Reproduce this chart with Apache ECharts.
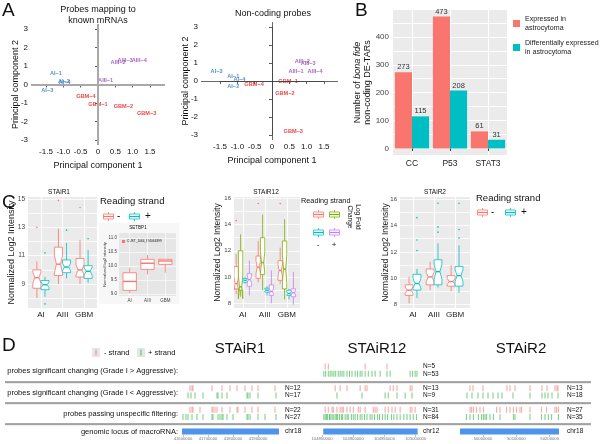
<!DOCTYPE html>
<html>
<head>
<meta charset="utf-8">
<script src="https://cdn.jsdelivr.net/npm/echarts@6/dist/echarts.min.js"></script>
<style>
html, body { margin: 0; padding: 0; background: #fff; }
#cn { width: 600px; height: 444px; }
</style>
</head>
<body>
<div id="cn"></div>
<script>
'use strict';

const FONT = 'Liberation Sans';
const RED = '#F8766D', TEAL = '#00BFC4', GREEN = '#7CAE00', PURPLE = '#C77CFF';

// ---- A : PCA (text labels only)
const PCA_NAMES = ['AI−1', 'AI−2', 'AI−3', 'AI−4', 'AIII−1', 'AIII−2', 'AIII−3', 'AIII−4', 'GBM−1', 'GBM−2', 'GBM−3', 'GBM−4'];
const PCA_GROUP = ['AI', 'AI', 'AI', 'AI', 'AIII', 'AIII', 'AIII', 'AIII', 'GBM', 'GBM', 'GBM', 'GBM'];
const MRNA_PC1 = [-1.21, -0.98, -1.46, -0.96, 0.22, 0.58, 0.78, 1.19, 0.0, 0.73, 1.40, -0.35];
const MRNA_PC2 = [0.60, 0.15, -0.30, 0.13, 0.23, 1.17, 1.31, 1.31, -1.08, -1.17, -1.58, -0.63];
const NC_PC1 = [-1.12, -1.12, -1.60, -0.94, 0.69, 0.87, 1.04, 1.24, 0.46, 0.37, 0.61, -0.52];
const NC_PC2 = [0.28, -0.28, 0.55, 0.09, 0.52, 1.11, 0.96, 0.55, 0.0, -0.72, -2.82, -0.18];
const PCA_COLORS = { AI: '#2F74C0', AIII: '#9446B4', GBM: '#E5161C' };

// ---- B : bars
const DETAR_CATS = ['CC', 'P53', 'STAT3'];
const DETAR_EXPRESSED = [273, 473, 61];
const DETAR_DIFF = [115, 208, 31];
const DETAR_LABEL_TICKS = [0, 100, 200, 300, 400];
const DETAR_GRID_TICKS = [0, 50, 100, 150, 200, 250, 300, 350, 400, 450];

// ---- C : boxplots  [lowWhisker, q1, median, q3, highWhisker]
const GRADES = ['AI', 'AIII', 'GBM'];
const STAIR1_MINUS = [[8.0, 8.7, 9.45, 10.0, 10.6], [9.0, 9.6, 10.4, 11.6, 12.9], [9.0, 9.5, 10.0, 10.8, 12.1]];
const STAIR1_MINUS_OUT = [[13.0], [14.9], [14.4]];
const STAIR1_PLUS = [[8.1, 8.6, 8.95, 9.25, 9.5], [9.4, 9.8, 10.2, 10.7, 11.9], [9.1, 9.4, 9.9, 10.3, 11.4]];
const STAIR1_PLUS_OUT = [[11.2, 7.6], [12.8], [12.2]];
const SETBP1_BOX = [[9.03, 9.13, 9.45, 9.76, 9.94], [9.7, 9.88, 10.1, 10.24, 10.39], [9.76, 10.06, 10.18, 10.24, 10.24]];
const SETBP1_OUT = [[], [], []];
const STAIR12_RED = [[8.7, 9.1, 9.5, 10.8, 11.75], [9.6, 9.9, 10.75, 11.6, 12.75], [9.5, 9.75, 10.5, 11.25, 12.25]];
const STAIR12_RED_OUT = [[14.3], [15.6], [15.6]];
const STAIR12_GREEN = [[8.5, 9.0, 9.25, 12.0, 13.25], [9.0, 10.2, 11.1, 13.0, 14.75], [8.3, 9.1, 10.6, 12.75, 14.4]];
const STAIR12_TEAL = [[9.5, 9.6, 9.75, 9.9, 10.0], [8.6, 8.85, 9.0, 9.15, 9.3], [8.3, 8.6, 8.75, 9.0, 9.1]];
const STAIR12_PURPLE = [[8.6, 9.3, 9.8, 10.25, 11.25], [8.0, 8.6, 8.9, 9.4, 10.5], [7.9, 8.5, 8.8, 9.1, 10.4]];
const STAIR2_MINUS = [[8.1, 8.7, 9.1, 9.5, 10.1], [9.1, 9.5, 10.1, 10.7, 11.25], [9.0, 9.4, 9.75, 10.2, 11.0]];
const STAIR2_PLUS = [[8.5, 9.1, 9.6, 10.3, 10.7], [9.3, 9.5, 10.5, 11.4, 12.65], [8.9, 9.4, 10.2, 10.9, 12.5]];
const STAIR2_PLUS_OUT = [[14.6, 12.9, 12.1], [15.7, 13.9, 13.5], [15.7, 13.7, 13.05]];
const NOTCH = 0.3; // notch half height, fraction of IQR

// ---- D : probe positions (kb)
const TRACK_ROWS = ['gtMinus', 'gtPlus', 'gap1', 'ltMinus', 'ltPlus', 'gap2', 'passMinus', 'passPlus', 'gap3', 'locus'];

const S1_LT_MINUS = [41628, 41636, 41640, 41716, 41756, 41788, 41816, 41848, 41876, 41900, 41968];
const S1_LT_PLUS = [41620, 41632, 41648, 41680, 41736, 41740, 41756, 41776, 41856, 41860, 41868, 41900, 41972];
const S1_PASS_MINUS = [41628, 41636, 41640, 41668, 41716, 41720, 41728, 41736, 41756, 41788, 41816, 41820, 41848, 41876, 41900, 41968];
const S1_PASS_PLUS = [41600, 41612, 41620, 41636, 41656, 41680, 41716, 41720, 41740, 41748, 41756, 41760, 41776, 41800, 41856, 41860, 41868, 41900, 41928, 41972];
const S1_LOCUS = [41596, 41984];
const S1_TICKS = [41600, 41700, 41800, 41900];
const S1_N = ['', '', '', 'N=12', 'N=17', '', 'N=22', 'N=27', '', 'chr18'];

const S12_GT_MINUS = [104855, 104860, 104919, 104954];
const S12_GT_PLUS = [104853, 104856, 104860, 104863, 104866, 104869, 104872, 104876, 104879, 104882, 104885, 104890, 104894, 104898, 104903, 104907, 104911, 104914, 104919, 104924, 104930, 104935, 104943, 104954, 104959, 104991, 104995, 104999, 105002];
const S12_LT_MINUS = [104871, 104879, 104890, 104911, 104919, 104922, 104959, 104964, 104970, 104991, 104994];
const S12_LT_PLUS = [104874, 104914, 104951, 104956, 104970, 104983, 104994];
const S12_PASS_MINUS = [104855, 104860, 104866, 104868, 104874, 104879, 104882, 104884, 104890, 104895, 104900, 104908, 104911, 104919, 104932, 104935, 104938, 104951, 104956, 104962, 104967, 104975, 104991, 104994, 104999];
const S12_PASS_PLUS = [104853, 104855, 104857, 104859, 104862, 104863, 104866, 104868, 104871, 104873, 104875, 104878, 104881, 104883, 104887, 104890, 104892, 104897, 104900, 104903, 104907, 104911, 104914, 104918, 104922, 104927, 104930, 104934, 104939, 104942, 104947, 104951, 104955, 104961, 104965, 104970, 104975, 104981, 104986, 104991, 104996, 105001];
const S12_LOCUS = [104852, 105003];
const S12_TICKS = [104850, 104900, 104950, 105000];
const S12_N = ['N=5', 'N=53', '', 'N=13', 'N=9', '', 'N=31', 'N=84', '', 'chr12'];

const S2_LT_MINUS = [49961, 49970, 50000, 50072, 50081, 50096, 50141, 50177, 50192, 50216, 50222, 50225];
const S2_LT_PLUS = [49952, 49967, 49985, 50000, 50015, 50030, 50045, 50057, 50090, 50141, 50177, 50186, 50195, 50207, 50225];
const S2_PASS_MINUS = [49961, 49966, 49971, 49981, 49991, 50001, 50041, 50051, 50071, 50081, 50091, 50101, 50111, 50116, 50141, 50175, 50191, 50216, 50221, 50226];
const S2_PASS_PLUS = [49950, 49961, 49971, 49986, 49996, 50001, 50006, 50011, 50021, 50031, 50051, 50091, 50096, 50141, 50175, 50186, 50196, 50206, 50226];
const S2_LOCUS = [49931, 50228];
const S2_TICKS = [50000, 50100, 50200];
const S2_N = ['', '', '', 'N=13', 'N=18', '', 'N=27', 'N=35', '', 'chr18'];

const MARK_RED = '#EE8080', MARK_GREEN = '#3DBB55', LOCUS_BLUE = '#4D94EA';

//
const grid = [], xAxis = [], yAxis = [], series = [], graphic = [];
const addGrid = g => grid.push(Object.assign({ borderWidth: 0 }, g)) - 1;
const addX = a => xAxis.push(Object.assign({ nameMoveOverlap: false }, a)) - 1;
const addY = a => yAxis.push(Object.assign({ nameMoveOverlap: false }, a)) - 1;

const txt = (x, y, text, o = {}) => ({
	type: 'text', x, y, rotation: o.rot || 0, silent: true,
	style: {
		text, fontSize: o.size || 8, fontFamily: o.font || FONT, fill: o.color || '#111',
		fontWeight: o.weight || 'normal', align: o.align || 'left', verticalAlign: o.va || 'middle',
		lineHeight: o.lh
	}
});

// PCA scatter + its axis frame (R style: axis only over the tick range)
const pcaPanel = (dataBox, axisBox, xr, yr, pc1, pc2, cross, xOffset, yOffset, yNameGap) => {
	const g = addGrid(dataBox);
	const xi = addX({ gridIndex: g, type: 'value', min: xr[0], max: xr[1], show: false });
	const yi = addY({ gridIndex: g, type: 'value', min: yr[0], max: yr[1], show: false });
	const ga = addGrid(axisBox);
	const axisCommon = {
		axisLine: { lineStyle: { color: '#333', width: 0.8 } },
		axisTick: { length: 3, lineStyle: { color: '#333', width: 0.8 } },
		splitLine: { show: false },
		nameLocation: 'middle',
		nameTextStyle: { fontSize: 9, fontFamily: FONT, color: '#111' }
	};
	addX(Object.assign({}, axisCommon, {
		gridIndex: ga, type: 'value', min: -1.5, max: 1.5, interval: 0.5, offset: xOffset,
		axisLabel: { fontSize: 8, fontFamily: FONT, color: '#111', margin: 3, formatter: v => v === 0 ? '0' : v.toFixed(1) },
		name: 'Principal component 1', nameGap: 16
	}));
	addY(Object.assign({}, axisCommon, {
		gridIndex: ga, type: 'value', min: -3, max: 3, interval: 1, offset: yOffset,
		axisLabel: { fontSize: 8, fontFamily: FONT, color: '#111', margin: 3 },
		name: 'Principal component 2', nameGap: yNameGap
	}));
	series.push({
		type: 'scatter', xAxisIndex: xi, yAxisIndex: yi, symbolSize: 1,
		itemStyle: { color: 'rgba(0,0,0,0)' },
		label: { show: true, position: 'inside', formatter: '{b}', fontSize: 5.6, fontWeight: 'bold', fontFamily: FONT },
		emphasis: { disabled: true },
		data: PCA_NAMES.map((n, i) => ({
			name: n, value: [pc1[i], pc2[i]], label: { color: PCA_COLORS[PCA_GROUP[i]] }
		})),
		markLine: {
			silent: true, symbol: 'none', label: { show: false },
			lineStyle: { color: cross.color, width: cross.width, type: 'solid' },
			data: [{ xAxis: 0 }, { yAxis: 0 }]
		},
		z: 3
	});
};

pcaPanel({ left: 31, top: 24, width: 134, height: 121 }, { left: 46, top: 29, width: 104, height: 111 },
	[-1.93, 1.93], [-3.27, 3.27], MRNA_PC1, MRNA_PC2, { color: '#A9A9A9', width: 2 }, 5, 15, 11);
pcaPanel({ left: 201, top: 22, width: 137, height: 118 }, { left: 220, top: 27, width: 104, height: 108 },
	[-2.05, 1.9], [-3.28, 3.28], NC_PC1, NC_PC2, { color: '#444', width: 0.8 }, 5, 19, 11);

// ---- B
{
	const g = addGrid({ left: 393, top: 10, width: 114, height: 145, show: true, backgroundColor: '#EBEBEB' });
	const xi = addX({
		gridIndex: g, type: 'category', data: DETAR_CATS,
		axisLine: { show: false },
		axisTick: { show: true, alignWithLabel: true, length: 2.5, lineStyle: { color: '#333' } },
		axisLabel: { fontSize: 8.5, fontFamily: FONT, color: '#222', margin: 4 },
		splitLine: { show: false }
	});
	addX({
		gridIndex: g, type: 'value', min: 0, max: 3,
		axisLine: { show: false }, axisTick: { show: false, customValues: [0.5, 1.5, 2.5] },
		axisLabel: { show: false }, splitLine: { show: true, lineStyle: { color: '#fff', width: 1 } }
	});
	const yi = addY({
		gridIndex: g, type: 'value', min: -23.65, max: 496.65,
		axisLine: { show: false },
		axisTick: { show: false, customValues: DETAR_GRID_TICKS },
		axisLabel: { customValues: DETAR_LABEL_TICKS, fontSize: 8, fontFamily: FONT, color: '#444', margin: 4 },
		splitLine: { show: true, lineStyle: { color: '#fff', width: 1 } },
		name: '{n|Number of }{i|bona fide}\n{n|non-coding DE-TARs}',
		nameLocation: 'middle', nameRotate: 90, nameGap: 20,
		nameTextStyle: {
			fontSize: 9, fontFamily: FONT, color: '#111', lineHeight: 10.5,
			rich: { n: { fontSize: 9, fontFamily: FONT }, i: { fontSize: 9, fontFamily: FONT, fontStyle: 'italic' } }
		}
	});
	const barLabel = { show: true, position: 'top', distance: 1, fontSize: 7.5, fontFamily: FONT, color: '#333' };
	series.push({
		type: 'bar', name: 'Expressed in\nastrocytoma', xAxisIndex: xi, yAxisIndex: yi,
		data: DETAR_EXPRESSED, itemStyle: { color: RED }, barGap: '0%', barCategoryGap: '10%', label: barLabel
	});
	series.push({
		type: 'bar', name: 'Differentially expressed\nin astrocytoma', xAxisIndex: xi, yAxisIndex: yi,
		data: DETAR_DIFF, itemStyle: { color: TEAL }, barGap: '0%', barCategoryGap: '10%', label: barLabel
	});
}

// ---- C boxplots (ggplot look, notched)
const boxSeries = (xi, yi, boxes, outliers, color, slot, nSlots, width, notched) => ({
	type: 'custom', xAxisIndex: xi, yAxisIndex: yi, clip: true, silent: true,
	data: boxes.map((b, i) => [i + 1].concat(b)),
	renderItem: (params, api) => {
		const cat = api.value(0);
		const slotW = width / nSlots;
		const cx = cat - width / 2 + slotW * (slot + 0.5);
		const lo = api.value(1), q1 = api.value(2), med = api.value(3), q3 = api.value(4), hi = api.value(5);
		const xl = api.coord([cx - slotW / 2, med])[0];
		const xr = api.coord([cx + slotW / 2, med])[0];
		const xm = (xl + xr) / 2;
		const y = v => api.coord([cx, v])[1];
		const inset = notched ? (xr - xl) * 0.25 : 0;
		const nl = med - NOTCH * (q3 - q1), nu = med + NOTCH * (q3 - q1);
		const pts = notched ? [
			[xl, y(q3)], [xl, y(nu)], [xl + inset, y(med)], [xl, y(nl)], [xl, y(q1)],
			[xr, y(q1)], [xr, y(nl)], [xr - inset, y(med)], [xr, y(nu)], [xr, y(q3)]
		] : [[xl, y(q3)], [xl, y(q1)], [xr, y(q1)], [xr, y(q3)]];
		const ln = { stroke: color, lineWidth: 0.8 };
		const children = [
			{ type: 'line', shape: { x1: xm, y1: y(q3), x2: xm, y2: y(hi) }, style: ln },
			{ type: 'line', shape: { x1: xm, y1: y(q1), x2: xm, y2: y(lo) }, style: ln },
			{ type: 'polygon', shape: { points: pts }, style: { fill: '#fff', stroke: color, lineWidth: 0.8 } },
			{ type: 'line', shape: { x1: xl + inset, y1: y(med), x2: xr - inset, y2: y(med) }, style: { stroke: color, lineWidth: 1.4 } }
		];
		(outliers[params.dataIndex] || []).forEach(v => {
			children.push({ type: 'circle', shape: { cx: xm, cy: y(v), r: 0.8 }, style: { fill: color } });
		});
		return { type: 'group', children };
	}
});

const boxPanel = (box, xr, yr, tickVals, labelVals, nameGap, labelSize, nameSize) => {
	const g = addGrid(Object.assign({ show: true, backgroundColor: '#EBEBEB' }, box));
	const xi = addX({
		gridIndex: g, type: 'value', min: xr[0], max: xr[1],
		axisLine: { show: false },
		axisTick: { show: false, customValues: [1, 2, 3] },
		axisLabel: { customValues: [1, 2, 3], formatter: v => GRADES[v - 1], fontSize: 8, fontFamily: FONT, color: '#222', margin: 3 },
		splitLine: { show: true, lineStyle: { color: '#fff', width: 1 } }
	});
	const yi = addY({
		gridIndex: g, type: 'value', min: yr[0], max: yr[1],
		axisLine: { show: false },
		axisTick: { show: false, customValues: tickVals },
		axisLabel: { customValues: labelVals, fontSize: labelSize, fontFamily: FONT, color: '#444', margin: 3 },
		splitLine: { show: true, lineStyle: { color: '#fff', width: 0.8 } },
		name: 'Normalized Log2 Intensity', nameLocation: 'middle', nameGap,
		nameTextStyle: { fontSize: nameSize, fontFamily: FONT, color: '#222' }
	});
	return [xi, yi];
};

{
	const [xi, yi] = boxPanel({ left: 28, top: 197, width: 69, height: 111 }, [0.4, 3.6], [7.31, 15.14],
		[8, 9, 10, 11, 12, 13, 14, 15], [9, 11, 13, 15], 12, 6.5, 9);
	series.push(boxSeries(xi, yi, STAIR1_MINUS, STAIR1_MINUS_OUT, RED, 0, 2, 0.75, true));
	series.push(boxSeries(xi, yi, STAIR1_PLUS, STAIR1_PLUS_OUT, TEAL, 1, 2, 0.75, true));
}
{
	// SETBP1 inset
	graphic.push({ type: 'rect', shape: { x: 99, y: 223, width: 80, height: 81 }, style: { fill: '#F7F7F7' }, silent: true, z: -1 });
	const g = addGrid({ left: 119, top: 233, width: 57, height: 63, show: true, backgroundColor: '#E6E6E6' });
	const xi = addX({
		gridIndex: g, type: 'value', min: 0.4, max: 3.6,
		axisLine: { show: false }, axisTick: { show: false, customValues: [1, 2, 3] },
		axisLabel: { customValues: [1, 2, 3], formatter: v => GRADES[v - 1], fontSize: 4.5, fontFamily: FONT, color: '#444', margin: 2 },
		splitLine: { show: true, lineStyle: { color: '#fff', width: 0.6 } }
	});
	const yi = addY({
		gridIndex: g, type: 'value', min: 8.93, max: 11.18,
		axisLine: { show: false }, axisTick: { show: false, customValues: [9, 9.5, 10, 10.5, 11] },
		axisLabel: { customValues: [9, 9.5, 10, 10.5, 11], formatter: v => v.toFixed(1), fontSize: 4.5, fontFamily: FONT, color: '#444', margin: 2 },
		splitLine: { show: true, lineStyle: { color: '#fff', width: 0.6 } },
		name: 'Normalized log2 intensity', nameLocation: 'middle', nameGap: 12,
		nameTextStyle: { fontSize: 4, fontFamily: FONT, color: '#333' }
	});
	series.push(boxSeries(xi, yi, SETBP1_BOX, SETBP1_OUT, RED, 0, 1, 0.75, false));
}
{
	const [xi, yi] = boxPanel({ left: 234, top: 197, width: 66, height: 111 }, [0.6, 3.6], [7.64, 16.1],
		[8, 9, 10, 11, 12, 13, 14, 15, 16], [8, 10, 12, 14, 16], 12, 6, 8.5);
	series.push(boxSeries(xi, yi, STAIR12_RED, STAIR12_RED_OUT, RED, 0, 4, 0.8, true));
	series.push(boxSeries(xi, yi, STAIR12_GREEN, [], GREEN, 1, 4, 0.8, true));
	series.push(boxSeries(xi, yi, STAIR12_TEAL, [], TEAL, 2, 4, 0.8, true));
	series.push(boxSeries(xi, yi, STAIR12_PURPLE, [], PURPLE, 3, 4, 0.8, true));
}
{
	const [xi, yi] = boxPanel({ left: 400, top: 197, width: 70, height: 111 }, [0.38, 3.71], [7.74, 16.17],
		[8, 9, 10, 11, 12, 13, 14, 15, 16], [8, 10, 12, 14, 16], 10, 6, 8.5);
	series.push(boxSeries(xi, yi, STAIR2_MINUS, [], RED, 0, 2, 0.75, true));
	series.push(boxSeries(xi, yi, STAIR2_PLUS, STAIR2_PLUS_OUT, TEAL, 1, 2, 0.75, true));
}

// ---- D genomic tracks
const trackPanel = (box, xr, ticks, rows, locus, nLabels, nMargin) => {
	const g = addGrid(Object.assign({ top: 363, height: 72 }, box));
	const xi = addX({
		gridIndex: g, type: 'value', min: xr[0], max: xr[1],
		axisLine: { show: false },
		axisTick: { show: true, customValues: ticks, length: 2, lineStyle: { color: '#999', width: 0.6 } },
		axisLabel: { customValues: ticks, formatter: v => String(v * 1000), fontSize: 4.2, fontFamily: FONT, color: '#777', margin: 2 },
		splitLine: { show: false }
	});
	const yi = addY({
		gridIndex: g, type: 'category', data: TRACK_ROWS, inverse: true, position: 'right',
		axisLine: { show: false }, axisTick: { show: false }, splitLine: { show: false },
		axisLabel: { interval: 0, formatter: (v, i) => nLabels[i], fontSize: 6.5, fontFamily: FONT, color: '#111', margin: nMargin }
	});
	Object.keys(rows).forEach(key => {
		series.push({
			type: 'scatter', xAxisIndex: xi, yAxisIndex: yi, silent: true,
			symbol: 'rect', symbolSize: [0.9, 6],
			itemStyle: { color: key.indexOf('Minus') >= 0 ? MARK_RED : MARK_GREEN },
			data: rows[key].map(p => [p, key])
		});
	});
	series.push({
		type: 'custom', xAxisIndex: xi, yAxisIndex: yi, silent: true,
		encode: { x: [0, 1], y: 2 },
		data: [[locus[0], locus[1], 'locus']],
		renderItem: (params, api) => {
			const a = api.coord([api.value(0), api.value(2)]);
			const b = api.coord([api.value(1), api.value(2)]);
			return { type: 'rect', shape: { x: a[0], y: a[1] - 3, width: b[0] - a[0], height: 6 }, style: { fill: LOCUS_BLUE } };
		}
	});
};

trackPanel({ left: 182, width: 97 }, [41596, 41984], S1_TICKS,
	{ ltMinus: S1_LT_MINUS, ltPlus: S1_LT_PLUS, passMinus: S1_PASS_MINUS, passPlus: S1_PASS_PLUS }, S1_LOCUS, S1_N, 6);
trackPanel({ left: 321, width: 97 }, [104848.4, 105003.6], S12_TICKS,
	{ gtMinus: S12_GT_MINUS, gtPlus: S12_GT_PLUS, ltMinus: S12_LT_MINUS, ltPlus: S12_LT_PLUS, passMinus: S12_PASS_MINUS, passPlus: S12_PASS_PLUS }, S12_LOCUS, S12_N, 5);
trackPanel({ left: 459, width: 101 }, [49928, 50231], S2_TICKS,
	{ ltMinus: S2_LT_MINUS, ltPlus: S2_LT_PLUS, passMinus: S2_PASS_MINUS, passPlus: S2_PASS_PLUS }, S2_LOCUS, S2_N, 7);

// ---- texts, legends, decorations
const legendKey = (x, y, color) => ({
	type: 'group', x, y, silent: true, children: [
		{ type: 'line', shape: { x1: 5.5, y1: 0, x2: 5.5, y2: 9 }, style: { stroke: color, lineWidth: 0.8 } },
		{ type: 'rect', shape: { x: 0.5, y: 2, width: 10, height: 5 }, style: { fill: '#fff', stroke: color, lineWidth: 0.8 } },
		{ type: 'line', shape: { x1: 0.5, y1: 4.5, x2: 10.5, y2: 4.5 }, style: { stroke: color, lineWidth: 1.2 } }
	]
});

graphic.push(
	txt(2, 11, 'A', { size: 19 }),
	txt(355, 11, 'B', { size: 19 }),
	txt(2, 203, 'C', { size: 19 }),
	txt(2, 346, 'D', { size: 19 }),
	txt(98, 15, 'Probes mapping to\nknown mRNAs', { size: 9, align: 'center', lh: 10.5 }),
	txt(273, 14, 'Non-coding probes', { size: 9, align: 'center' }),
	// C titles + legends
	txt(59, 192, 'STAiR1', { size: 6.5, align: 'center' }),
	txt(266, 192, 'STAiR12', { size: 6.5, align: 'center' }),
	txt(435, 192, 'STAiR2', { size: 6.5, align: 'center' }),
	txt(100, 201, 'Reading strand', { size: 9.5 }),
	legendKey(103, 212, RED), txt(117, 216.5, '-', { size: 10 }),
	legendKey(129, 212, TEAL), txt(145, 216.5, '+', { size: 10 }),
	txt(138, 228, 'SETBP1', { size: 4.5, align: 'center' }),
	{ type: 'rect', shape: { x: 122, y: 240, width: 3, height: 3 }, style: { fill: RED }, silent: true },
	txt(127, 241.5, 'CUST_1064_PI4066399', { size: 3.2 }),
	txt(301, 201, 'Reading strand', { size: 7.3 }),
	legendKey(313, 210, RED), legendKey(329, 210, GREEN),
	legendKey(313, 228, TEAL), legendKey(329, 228, PURPLE),
	txt(318, 245, '-', { size: 8, align: 'center' }), txt(334, 245, '+', { size: 8, align: 'center' }),
	txt(354, 217, 'Log Fold\nChange', { size: 6.5, align: 'center', rot: -Math.PI / 2, lh: 7.5 }),
	txt(476, 198, 'Reading strand', { size: 9.5 }),
	legendKey(477, 208, RED), txt(491, 212.5, '-', { size: 10 }),
	legendKey(505, 208, TEAL), txt(521, 212.5, '+', { size: 10 }),
	// D
	txt(240, 349, 'STAiR1', { size: 15, align: 'center' }),
	txt(377, 349, 'STAiR12', { size: 15, align: 'center' }),
	txt(521, 349, 'STAiR2', { size: 15, align: 'center' }),
	{ type: 'rect', shape: { x: 92, y: 348, width: 8, height: 9 }, style: { fill: '#E6E6E6' }, silent: true },
	{ type: 'line', shape: { x1: 96, y1: 349.5, x2: 96, y2: 355.5 }, style: { stroke: MARK_RED, lineWidth: 0.9 }, silent: true },
	txt(104, 352.5, '- strand', { size: 7.5 }),
	{ type: 'rect', shape: { x: 137, y: 348, width: 8, height: 9 }, style: { fill: '#E6E6E6' }, silent: true },
	{ type: 'line', shape: { x1: 141, y1: 349.5, x2: 141, y2: 355.5 }, style: { stroke: MARK_GREEN, lineWidth: 0.9 }, silent: true },
	txt(148, 352.5, '+ strand', { size: 7.5 }),
	txt(178, 371, 'probes significant changing (Grade I > Aggressive):', { size: 7.5, align: 'right' }),
	txt(178, 393, 'probes significant changing (Grade I < Aggressive):', { size: 7.5, align: 'right' }),
	txt(178, 413.5, 'probes passing unspecific filtering:', { size: 7.5, align: 'right' }),
	txt(178, 432, 'genomic locus of macroRNA:', { size: 7.5, align: 'right' })
);
[382, 403, 424].forEach(yy => {
	graphic.push(
		{ type: 'line', shape: { x1: 5, y1: yy + 1, x2: 591, y2: yy + 1 }, style: { stroke: '#DDDDDD', lineWidth: 1 }, silent: true },
		{ type: 'line', shape: { x1: 5, y1: yy, x2: 591, y2: yy }, style: { stroke: '#555', lineWidth: 1 }, silent: true }
	);
});

const chart = echarts.init(document.getElementById('cn'), null, { renderer: 'canvas' });
chart.setOption({
	animation: false,
	backgroundColor: '#fff',
	textStyle: { fontFamily: FONT },
	grid, xAxis, yAxis, series, graphic,
	legend: {
		left: 508, top: 10, orient: 'vertical', icon: 'rect', itemWidth: 7, itemHeight: 7, itemGap: 7,
		selectedMode: false,
		data: ['Expressed in\nastrocytoma', 'Differentially expressed\nin astrocytoma'],
		textStyle: { fontSize: 7.1, fontFamily: FONT, color: '#222', lineHeight: 8.5 }
	}
});
</script>
</body>
</html>
